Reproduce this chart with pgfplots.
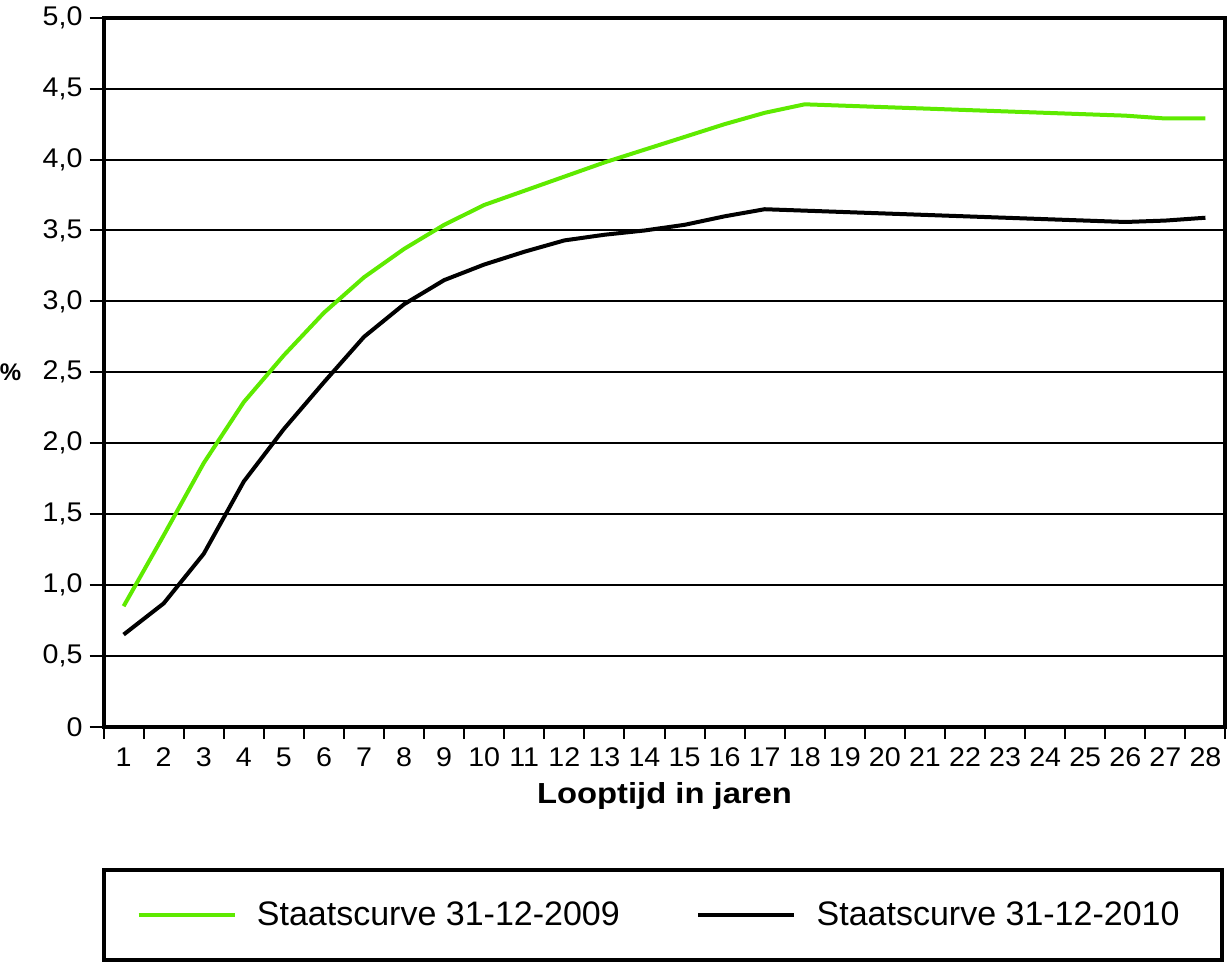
\documentclass[border=0pt]{standalone}
\usepackage{fontspec}
\setmainfont{Liberation Sans}
\newfontfamily\tickfont{Liberation Sans}[FakeStretch=1.06]
\newfontfamily\labfont{Liberation Sans}[FakeStretch=1.13]
\usepackage{pgfplots}
\pgfplotsset{compat=1.18}
\definecolor{sgreen}{RGB}{94,234,0}

\pgfplotstableread{
x y
1 0.85
2 1.35
3 1.86
4 2.29
5 2.62
6 2.92
7 3.17
8 3.37
9 3.54
10 3.68
11 3.78
12 3.88
13 3.98
14 4.07
15 4.16
16 4.25
17 4.33
18 4.39
19 4.38
20 4.37
21 4.36
22 4.35
23 4.34
24 4.33
25 4.32
26 4.31
27 4.29
28 4.29
}\greendata

\pgfplotstableread{
x y
1 0.65
2 0.87
3 1.22
4 1.73
5 2.10
6 2.43
7 2.75
8 2.98
9 3.15
10 3.26
11 3.35
12 3.43
13 3.47
14 3.50
15 3.54
16 3.60
17 3.65
18 3.64
19 3.63
20 3.62
21 3.61
22 3.60
23 3.59
24 3.58
25 3.57
26 3.56
27 3.57
28 3.59
}\blackdata

\begin{document}
\begin{tikzpicture}
\begin{axis}[
  scale only axis, width=561pt, height=354.5pt,
  xmin=0.5, xmax=28.5, ymin=0, ymax=5,
  axis line style={line width=2pt},
  xtick={1,2,...,28},
  xticklabels={1,2,3,4,5,6,7,8,9,10,11,12,13,14,15,16,17,18,19,20,21,22,23,24,25,26,27,28},
  major x tick style={draw=none},
  minor xtick={0.5,1.5,...,28.5},
  minor x tick style={line width=1pt, black},
  minor tick length=6pt,
  ytick={0,0.5,...,5},
  yticklabels={0,{0,5},{1,0},{1,5},{2,0},{2,5},{3,0},{3,5},{4,0},{4,5},{5,0}},
  tick align=outside,
  major tick length=7pt,
  y tick style={line width=1pt, black},
  tick pos=left,
  ymajorgrids, grid style={line width=1pt, black},
  tick label style={font=\tickfont\fontsize{13.5}{15}\selectfont},
  xlabel={Looptijd in jaren},
  xlabel style={font=\labfont\bfseries\fontsize{14.5}{16}\selectfont, at={(axis description cs:0.5,-0.1086)}, anchor=base},
  ylabel={\%},
  ylabel style={rotate=-90, at={(axis description cs:-0.0927,0.5)}, anchor=west, inner sep=0pt, font=\bfseries\fontsize{12}{14}\selectfont},
  legend columns=2,
  legend style={at={(0,-0.2017)}, anchor=north west, outer sep=0pt, draw=black, line width=2pt,
    inner xsep=16.5pt, inner ysep=14pt, font=\fontsize{17}{19}\selectfont,
    /tikz/every odd column/.append style={column sep=8.2pt}},
  legend image code/.code={\draw[#1, line width=2pt] (0pt,0pt) -- (48pt,0pt);},
]
\addplot[sgreen, line width=2pt, line join=round] table[x=x,y=y] {\greendata};
\addlegendentry{\makebox[217.7pt][l]{Staatscurve 31-12-2009}}
\addplot[black, line width=2pt, line join=round] table[x=x,y=y] {\blackdata};
\addlegendentry{\makebox[184pt][l]{Staatscurve 31-12-2010}}
\end{axis}
\end{tikzpicture}
\end{document}
